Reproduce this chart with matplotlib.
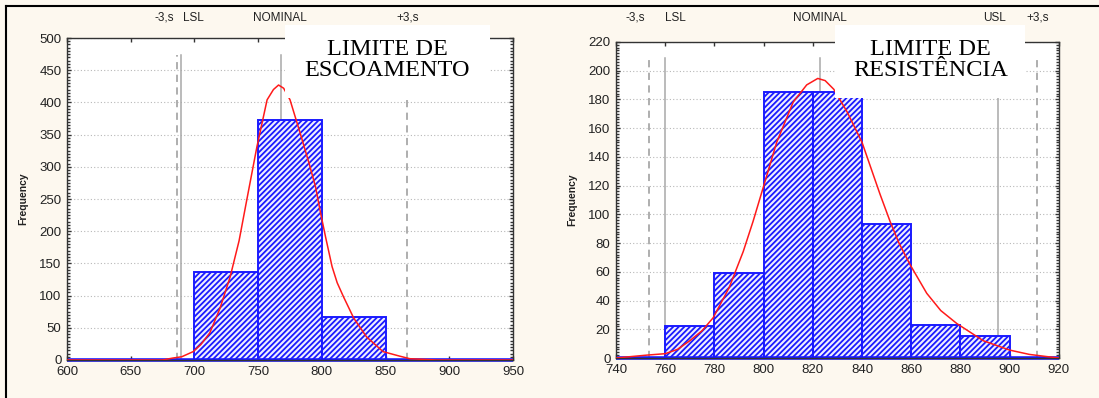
import matplotlib
matplotlib.use("Agg")
import matplotlib.pyplot as plt
from matplotlib.lines import Line2D
from matplotlib.patches import Rectangle
from matplotlib.ticker import MultipleLocator
import matplotlib.transforms as mtransforms

# ---------------- data ----------------
# Left panel: LIMITE DE ESCOAMENTO
bin_edges_L = [600, 650, 700, 750, 800, 850, 900, 950]
counts_L = [0, 0, 137, 372, 66, 0, 0]
curve_x_L = [600, 675, 683, 690, 699, 705, 712, 720, 728, 735, 741, 749, 757, 762, 766,
             770, 775, 783, 790, 795, 799, 803, 808, 812, 817, 825, 835, 848, 861, 869, 890, 950]
curve_y_L = [0, 0, 3, 5, 13, 24, 42, 80, 129, 185, 248, 331, 404, 420, 427,
             422, 404, 352, 305, 269, 228, 190, 145, 120, 98, 65, 36, 13, 6, 2, 0, 0]
refs_L = {"-3s": 686, "LSL": 689.5, "NOMINAL": 768, "+3s": 867}
labels_L = [("-3,s", 676), ("LSL", 699), ("NOMINAL", 767), ("+3,s", 867)]
title_L = "LIMITE DE\nESCOAMENTO"

# Right panel: LIMITE DE RESISTÊNCIA
bin_edges_R = [740, 760, 780, 800, 820, 840, 860, 880, 900, 920]
counts_R = [0, 22, 59, 185, 185, 93, 23, 15, 0]
curve_x_R = [740, 752.5, 760, 765, 770, 775, 779.5, 786, 791.7, 795.7, 798.5, 805.3, 812,
             817.5, 822, 825, 828.5, 834, 840, 847.3, 851.4, 855, 859.5, 866.3, 872,
             878.5, 889.3, 900, 908, 915, 920]
curve_y_R = [0, 2, 3, 6, 12, 19, 28, 49, 74, 95, 111, 150, 178,
             190, 194.5, 193, 187, 171, 150, 114, 95, 80, 65, 45, 33,
             24, 12, 5.5, 2.5, 1, 0]
refs_R = {"-3s": 753.4, "LSL": 760, "NOMINAL": 823, "USL": 895.3, "+3s": 911.2}
labels_R = [("-3,s", 747.7), ("LSL", 764), ("NOMINAL", 822.9), ("USL", 894), ("+3,s", 911.5)]
title_R = "LIMITE DE\nRESISTÊNCIA"

# ---------------- style ----------------
BG = "#fdf8ef"
BLUE = "#1a1aff"
plt.rcParams["hatch.linewidth"] = 1.3
TICK_FONT = ["Liberation Sans", "DejaVu Sans"]

fig = plt.figure(figsize=(10.99, 3.98), dpi=100, facecolor=BG)


def panel(rect, edges, counts, cx, cy, refs, labels, title, xlim, ylim,
          xstep, ystep, yminor, box_rect, ref_top):
    ax = fig.add_axes(rect)
    ax.set_facecolor("white")
    ax.set_xlim(*xlim)
    ax.set_ylim(*ylim)

    # grid
    ax.yaxis.grid(True, color="#b8b8b8", linestyle=(0, (1, 2)), linewidth=0.8)
    ax.set_axisbelow(True)

    # reference lines
    for key, xv in refs.items():
        dashed = "s" in key
        ax.axvline(xv, ymin=0, ymax=ref_top, color="#a8a8a8",
                   linestyle=(0, (4, 3)) if dashed else "-",
                   linewidth=1.3 if dashed else 1.1, zorder=1)

    # bars
    lefts = edges[:-1]
    widths = [edges[i + 1] - edges[i] for i in range(len(edges) - 1)]
    ax.bar(lefts, counts, width=widths, align="edge", facecolor="#eeeeff",
           edgecolor=BLUE, hatch="//////", linewidth=1.4, zorder=2)
    # baseline for zero bins
    ax.bar(lefts, [0] * len(counts), width=widths, align="edge", facecolor="none",
           edgecolor=BLUE, linewidth=2.6, zorder=2.5, clip_on=False)

    # fitted curve
    ax.plot(cx, cy, color="#ff1a1a", linewidth=1.1, zorder=3)

    # ticks
    ax.xaxis.set_major_locator(MultipleLocator(xstep))
    ax.yaxis.set_major_locator(MultipleLocator(ystep))
    ax.yaxis.set_minor_locator(MultipleLocator(yminor))
    ax.tick_params(axis="both", which="major", direction="in", length=3,
                   width=1, color="#333333", labelsize=9.5, labelcolor="#222222",
                   top=True, right=True, pad=4)
    ax.tick_params(axis="y", which="minor", direction="in", length=2, width=1,
                   color="#333333", left=True, right=True)
    for lab in ax.get_xticklabels() + ax.get_yticklabels():
        lab.set_family(TICK_FONT)
    for sp in ax.spines.values():
        sp.set_color("#333333")
        sp.set_linewidth(1.0)

    ax.set_ylabel("Frequency", fontsize=7.5, fontweight="bold",
                  family=TICK_FONT, color="#222222", labelpad=8)

    # labels above the axes
    trans = mtransforms.blended_transform_factory(ax.transData, fig.transFigure)
    for txt, xv in labels:
        ax.text(xv, 0.955, txt, transform=trans, ha="center", va="center",
                fontsize=8.5, family=TICK_FONT, color="#222222", clip_on=False)

    # title box
    fig.add_artist(Rectangle((box_rect[0], box_rect[1]), box_rect[2], box_rect[3],
                             transform=fig.transFigure, facecolor="white",
                             edgecolor="none", zorder=5))
    fig.text(box_rect[0] + box_rect[2] / 2, box_rect[1] + box_rect[3] / 2 + 0.005,
             title, ha="center", va="center", fontsize=17.5,
             family=["Liberation Serif", "DejaVu Serif"], linespacing=1.0,
             color="black", zorder=6)
    return ax


axL = panel([0.061, 0.0955, 0.4058, 0.809], bin_edges_L, counts_L, curve_x_L, curve_y_L,
            refs_L, labels_L, title_L, (600, 950), (0, 500), 50, 50, 5,
            (0.259, 0.754, 0.187, 0.183), 0.946)
axR = panel([0.5605, 0.1005, 0.403, 0.7945], bin_edges_R, counts_R, curve_x_R, curve_y_R,
            refs_R, labels_R, title_R, (740, 920), (0, 220), 20, 20, 2,
            (0.760, 0.754, 0.173, 0.183), 0.95)

# outer frame lines (top and left)
fig.add_artist(Line2D([0.0055, 1.0], [0.984, 0.984], transform=fig.transFigure,
                      color="black", linewidth=1.5))
fig.add_artist(Line2D([0.0055, 0.0055], [0.0, 0.984], transform=fig.transFigure,
                      color="black", linewidth=1.5))

fig.savefig("out.png", dpi=100, facecolor=BG)
